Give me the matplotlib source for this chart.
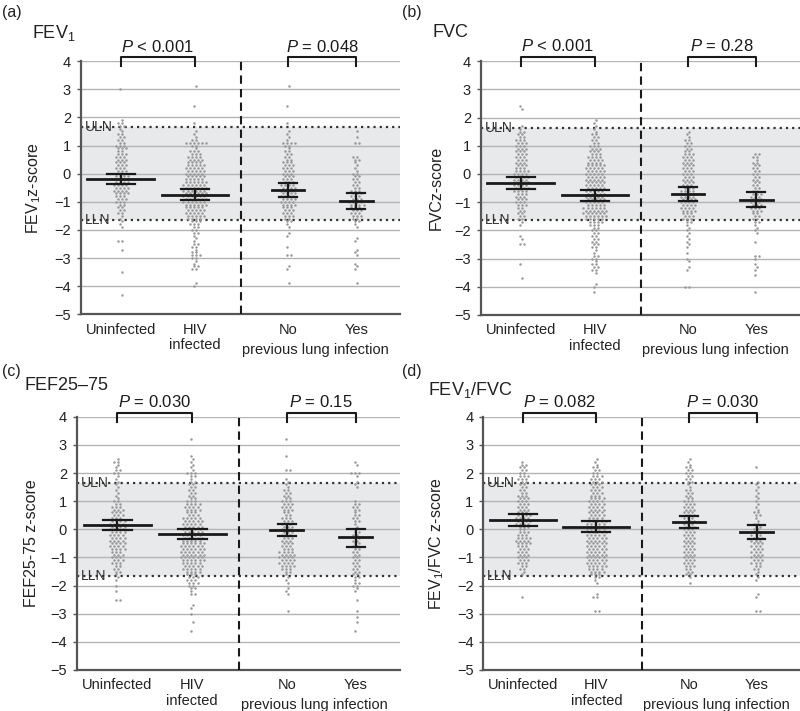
import numpy as np
import matplotlib
matplotlib.use("Agg")
import matplotlib.pyplot as plt

plt.rcParams['font.family'] = ['Liberation Sans', 'DejaVu Sans']
plt.rcParams['mathtext.fontset'] = 'custom'
plt.rcParams['mathtext.rm'] = 'Liberation Sans'
plt.rcParams['mathtext.it'] = 'Liberation Sans:italic'

groups = ["Uninfected", "HIV\ninfected", "No", "Yes"]
shared_label = "previous lung infection"

# counts of subjects per 0.1 z-score row, first row is z = 3.2, going down
fev1_unin = [0,0,1,0,0,0,0,0,0,0, 0,0,0,1,2,2,1,1,2,2, 2,2,3,3,2,3,3,3,3,3,
             3,3,3,4,4,4,4,4,4,4, 3,3,3,2,2,2,2,1,1,1, 1,1,0,0,0,0,2,0,0,1,
             0,0,0,0,0,0,0,1,0,0, 0,0,0,0,0,1,0]
fev1_hiv = [0,1,0,0,0,0,0,0,1,0, 0,0,0,0,1,0,0,1,1,1, 2,6,2,1,3,3,4,4,4,5,
            5,5,5,5,5,6,6,6,6,6, 6,6,6,6,5,5,5,5,4,3, 3,2,2,2,1,1,1,2,2,1,
            2,3,2,1,1,2,2,0,0,0, 0,1,1]
fev1_no = [0,1,0,0,0,0,0,0,1,0, 0,0,0,0,1,0,0,1,1,1, 1,4,2,1,2,2,2,2,3,3,
           3,3,3,3,3,3,4,4,4,4, 4,4,4,4,3,3,3,3,2,2, 1,1,0,1,1,0,0,0,1,0,
           0,2,0,0,0,1,1,0,0,0, 0,1]
fev1_yes = [0,0,0,0,0,0,0,0,0,0, 0,0,0,0,0,0,0,1,0,1, 0,2,0,0,0,0,2,2,1,1,
            1,1,2,2,2,2,2,2,3,3, 3,3,4,4,3,3,3,3,2,2, 1,1,0,0,0,1,1,0,0,1,
            1,1,0,0,1,1,1,0,0,0, 0,1]

fvc_unin = [0,0,0,0,0,0,0,0,1,1, 0,0,0,0,0,1,1,2,2,2, 3,3,3,3,3,3,3,3,3,3,
            3,4,4,4,4,4,4,4,4,3, 3,3,3,3,2,2,2,2,2,1, 1,0,0,0,1,1,0,2,0,0,
            0,0,0,0,1,0,0,0,0,1]
fvc_hiv = [0,0,0,0,0,0,0,0,0,0, 0,0,0,1,1,1,1,1,2,2, 2,2,3,3,3,3,4,4,4,5,
           5,5,5,5,5,5,5,5,5,5, 5,5,5,5,6,6,6,6,5,4, 3,2,2,2,2,2,2,2,2,1,
           1,2,2,1,2,2,2,1,0,0, 0,1,1,0,1]
fvc_no = [0,0,0,0,0,0,0,0,0,0, 0,0,0,0,0,0,0,1,1,1, 2,2,2,2,2,3,3,3,3,3,
          3,3,3,3,3,3,3,3,4,4, 4,4,4,4,4,4,3,3,3,2, 1,1,1,1,1,1,1,1,1,0,
          1,0,1,1,0,1,1,0,0,0, 0,0,2]
fvc_yes = [0,0,0,0,0,0,0,0,0,0, 0,0,0,0,0,0,0,0,0,0, 0,0,0,0,0,2,2,1,2,2,
           2,2,2,2,2,2,2,2,2,3, 3,3,3,3,3,3,2,2,2,2, 1,1,1,1,0,0,1,0,0,0,
           0,2,1,0,1,1,1,0,1,0, 0,0,0,0,1]

fef_unin = [0,0,0,0,0,0,0,1,2,1, 1,2,2,1,1,1,1,1,1,1, 1,1,2,2,3,3,3,3,3,4,
            4,4,4,4,4,4,4,4,4,4, 3,3,3,3,3,2,2,2,1,1, 1,0,1,0,1,0,0,2]
fef_hiv = [1,0,0,0,0,0,1,1,1,1, 1,1,3,2,1,2,2,2,2,2, 2,2,3,4,4,4,3,3,5,5,
           5,5,5,5,5,5,5,6,6,6, 6,6,6,6,5,5,5,4,3,3, 3,3,2,2,1,2,0,0,0,1,
           1,0,1,0,0,1,0,0,1]
fef_no = [1,0,0,0,0,0,1,0,0,0, 0,2,0,0,1,1,1,1,2,2, 2,2,3,3,3,3,2,2,3,3,
          3,3,3,3,3,3,3,3,3,3, 4,4,4,4,4,4,3,2,1,1, 1,1,0,1,1,1,0,0,0,0,
          0,1]
fef_yes = [0,0,0,0,0,0,0,0,1,1, 0,0,3,1,0,1,1,1,0,0, 0,0,1,2,2,2,1,2,2,2,
           1,1,1,2,2,2,2,2,2,2, 2,2,2,2,2,2,2,2,2,2, 1,2,2,1,1,0,0,1,0,0,
           0,1,0,1,0,1,0,0,1]

ratio_unin = [0,0,0,0,0,0,0,0,1,2, 2,2,2,3,3,2,2,2,2,2, 3,3,3,3,3,3,3,4,4,4,
              4,3,2,3,3,4,4,4,3,3, 3,3,3,3,3,2,2,1,1,0, 0,0,0,0,0,0,1]
ratio_hiv = [0,0,0,0,0,0,0,1,1,1, 2,2,2,3,3,3,3,3,3,3, 3,4,4,4,4,4,4,4,4,5,
             5,5,5,5,5,5,5,5,5,5, 5,5,5,5,5,5,4,4,3,2, 1,1,0,0,0,1,2,0,0,0,
             0,2]
ratio_no = [0,0,0,0,0,0,0,1,1,1, 2,2,2,2,2,2,1,1,2,2, 2,2,3,3,3,3,3,3,3,3,
            3,3,3,3,3,3,3,3,3,3, 3,3,3,3,3,3,2,2,2,1, 0,1]
ratio_yes = [0,0,0,0,0,0,0,0,0,0, 1,0,0,0,0,1,1,1,1,1, 1,1,1,1,1,1,2,2,1,1,
             2,2,2,2,3,3,3,3,3,3, 3,3,3,3,3,2,2,1,1,1, 1,0,0,0,0,1,1,0,0,0,
             0,2]

# mean and 95% CI
fev1_mean = [-0.18, -0.75, -0.58, -0.98]
fev1_lo = [-0.38, -0.93, -0.83, -1.25]
fev1_hi = [0.0, -0.55, -0.33, -0.70]
fvc_mean = [-0.32, -0.76, -0.70, -0.92]
fvc_lo = [-0.52, -0.95, -0.95, -1.18]
fvc_hi = [-0.12, -0.58, -0.45, -0.65]
fef_mean = [0.15, -0.15, -0.02, -0.28]
fef_lo = [-0.03, -0.35, -0.25, -0.62]
fef_hi = [0.35, 0.03, 0.20, 0.0]
ratio_mean = [0.33, 0.10, 0.27, -0.08]
ratio_lo = [0.13, -0.10, 0.05, -0.35]
ratio_hi = [0.53, 0.30, 0.48, 0.15]

p_left = ["< 0.001", "< 0.001", "= 0.030", "= 0.082"]
p_right = ["= 0.048", "= 0.28", "= 0.15", "= 0.030"]
titles = ["FEV$_1$", "FVC", "FEF25–75", "FEV$_1$/FVC"]
ylabels = ["FEV$_1$z-score", "FVCz-score", "FEF25-75 z-score", "FEV$_1$/FVC z-score"]
letters = ["(a)", "(b)", "(c)", "(d)"]
uln = 1.645

panels = [
    ([fev1_unin, fev1_hiv, fev1_no, fev1_yes], fev1_mean, fev1_lo, fev1_hi),
    ([fvc_unin, fvc_hiv, fvc_no, fvc_yes], fvc_mean, fvc_lo, fvc_hi),
    ([fef_unin, fef_hiv, fef_no, fef_yes], fef_mean, fef_lo, fef_hi),
    ([ratio_unin, ratio_hiv, ratio_no, ratio_yes], ratio_mean, ratio_lo, ratio_hi),
]

xpos = [0.54, 1.54, 2.8, 3.72]
xdiv = 2.16
x_shared = 3.17
half_mean = [0.45, 0.45, 0.22, 0.22]
half_cap = [0.19, 0.19, 0.12, 0.12]

axes_rect = [
    [0.101, 0.558, 0.399, 0.356],
    [0.601, 0.557, 0.399, 0.357],
    [0.096, 0.0577, 0.404, 0.356],
    [0.604, 0.0577, 0.396, 0.356],
]
title_pos = [(0.04, 0.954), (0.54, 0.954), (0.031, 0.458), (0.535, 0.452)]
letter_pos = [(0.002, 0.983), (0.502, 0.983), (0.002, 0.477), (0.502, 0.477)]


def swarm(counts, xc, dx=0.056):
    xs, ys = [], []
    for i, n in enumerate(counts):
        z = 3.2 - 0.1 * i
        shift = dx * 0.25 if i % 2 else -dx * 0.25
        for j in range(n):
            xs.append(xc + (j - (n - 1) / 2) * dx + shift)
            ys.append(z)
    return xs, ys


fig = plt.figure(figsize=(8, 7.11), dpi=100)

for k, (data, means, lo, hi) in enumerate(panels):
    ax = fig.add_axes(axes_rect[k])
    ax.set_xlim(0, 4.31)
    ax.set_ylim(-5, 4)
    ax.axhspan(-uln, uln, color='#e8e9ea', zorder=0, lw=0)
    for g in range(-4, 5):
        ax.axhline(g, color='#b4b4b4', lw=1, zorder=1)
    for v in (uln, -uln):
        ax.axhline(v, color='#333333', lw=1.6, ls=(0, (1, 1.8)), zorder=2)
    ax.text(0.05, uln, "ULN", fontsize=10, color='#333333', va='center', ha='left', zorder=3)
    ax.text(0.05, -uln, "LLN", fontsize=10, color='#333333', va='center', ha='left', zorder=3)
    ax.axvline(xdiv, color='#1a1a1a', lw=1.5, ls=(0, (4, 2.5)), zorder=3)

    for i in range(4):
        xs, ys = swarm(data[i], xpos[i])
        ax.scatter(xs, ys, s=3.2, color='#989898', lw=0, zorder=4)
        ax.plot([xpos[i] - half_mean[i], xpos[i] + half_mean[i]], [means[i]] * 2,
                color='#1a1a1a', lw=2, zorder=5)
        ax.plot([xpos[i]] * 2, [lo[i], hi[i]], color='#1a1a1a', lw=1.6, zorder=5)
        for v in (lo[i], hi[i]):
            ax.plot([xpos[i] - half_cap[i], xpos[i] + half_cap[i]], [v, v],
                    color='#1a1a1a', lw=1.6, zorder=5)

    # significance brackets
    for (a, b), ptxt in (((0, 1), p_left[k]), ((2, 3), p_right[k])):
        ax.plot([xpos[a], xpos[a], xpos[b], xpos[b]], [3.82, 4.14, 4.14, 3.82],
                color='#1a1a1a', lw=1.5, clip_on=False, zorder=6)
        ax.text((xpos[a] + xpos[b]) / 2, 4.52, "$P$ " + ptxt, fontsize=12,
                ha='center', va='center', color='#1a1a1a')

    ax.set_xticks(xpos)
    ax.set_xticklabels(groups, fontsize=10.5, color='#222222', linespacing=1.15)
    ax.tick_params(axis='x', length=0, pad=6)
    # second line shared by the two lung-infection groups
    ax.annotate(shared_label, xy=(x_shared, 0), xycoords=('data', 'axes fraction'),
                xytext=(0, -20.5), textcoords='offset points', fontsize=10.5,
                color='#222222', ha='center', va='top')
    ax.set_yticks(range(-5, 5))
    ax.set_yticklabels([str(t).replace('-', '\u2212') for t in range(-5, 5)], fontsize=10.5,
                       color='#222222')
    ax.tick_params(axis='y', length=3, width=1, color='#555555', pad=4)
    for s in ('top', 'right'):
        ax.spines[s].set_visible(False)
    for s in ('left', 'bottom'):
        ax.spines[s].set_color('#555555')
        ax.spines[s].set_linewidth(1.6)
    ax.set_ylabel(ylabels[k], fontsize=11.5, color='#222222', labelpad=8)

    fig.text(*title_pos[k], titles[k], fontsize=13, va='center', ha='left', color='#222222')
    fig.text(*letter_pos[k], letters[k], fontsize=11.5, va='center', ha='left', color='#222222')

fig.savefig("out.png", dpi=100)
